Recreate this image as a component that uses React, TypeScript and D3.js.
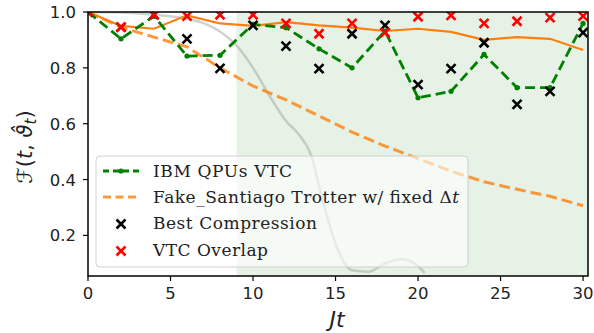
import React from "react";
import * as d3 from "d3";

const tVals = [0, 2, 4, 6, 8, 10, 12, 14, 16, 18, 20, 22, 24, 26, 28, 30];
const ibmVTC = [1.0, 0.904, 0.985, 0.842, 0.845, 0.956, 0.944, 0.868, 0.80, 0.932, 0.693, 0.716, 0.848, 0.729, 0.729, 0.959];
const trotterSolid = [1.0, 0.95, 0.94, 0.988, 0.959, 0.95, 0.964, 0.952, 0.944, 0.932, 0.94, 0.929, 0.90, 0.91, 0.904, 0.864];
const fakeSantiago = [1.0, 0.945, 0.91, 0.875, 0.80, 0.735, 0.685, 0.628, 0.57, 0.52, 0.475, 0.43, 0.392, 0.365, 0.34, 0.306];
const bestCompression = [1.0, 0.946, 0.99, 0.904, 0.798, 0.952, 0.878, 0.797, 0.922, 0.952, 0.74, 0.797, 0.89, 0.669, 0.716, 0.926];
const vtcOverlap = [1.0, 0.946, 0.99, 0.985, 0.99, 0.99, 0.959, 0.922, 0.959, 0.926, 0.983, 0.988, 0.959, 0.967, 0.98, 0.985];
const exactT = [0, 2, 4, 5, 6, 7, 8, 9, 10, 11, 12, 12.8, 13.5, 14.2, 15, 16, 17, 18, 19, 19.8, 20.4];
const exactF = [1.0, 0.998, 0.99, 0.985, 0.975, 0.96, 0.93, 0.88, 0.8, 0.7, 0.61, 0.56, 0.49, 0.33, 0.17, 0.075, 0.07, 0.1, 0.115, 0.1, 0.066];
const xTicks = [0, 5, 10, 15, 20, 25, 30];
const yTicks = [0.2, 0.4, 0.6, 0.8, 1.0];
const legendLabels = ["IBM QPUs VTC", "Fake_Santiago Trotter w/ fixed Δt", "Best Compression", "VTC Overlap"];
const legendWidths = [139, 306, 164, 115];
const shadeStart = 9;

const W = 594, H = 333;
const L = 88, R = 588, T = 12, B = 276;

export default function App() {
  const x = d3.scaleLinear().domain([0, 30.3]).range([L, R]);
  const y = d3.scaleLinear().domain([0.0546, 1.0]).range([B, T]);
  const line = d3.line<[number, number]>().x(d => x(d[0])).y(d => y(d[1]));
  const smooth = d3.line<[number, number]>().x(d => x(d[0])).y(d => y(d[1])).curve(d3.curveMonotoneX);
  const pts = (arr: number[]) => tVals.map((t, i) => [t, arr[i]] as [number, number]);
  const exactPts = exactT.map((t, i) => [t, exactF[i]] as [number, number]);
  const xMark = (cx: number, cy: number, color: string, k: string) => (
    <path key={k} d={`M${cx - 4.5},${cy - 4.5}L${cx + 4.5},${cy + 4.5}M${cx - 4.5},${cy + 4.5}L${cx + 4.5},${cy - 4.5}`} stroke={color} strokeWidth={2.6} fill="none" />
  );
  const tickFont = "'DejaVu Sans', sans-serif";
  const serif = "'DejaVu Serif', 'Liberation Serif', serif";
  const legX = 96, legY = 156, legW = 372, legH = 111;
  const rowY = [171, 197, 223, 250];
  return (
    <svg width={W} height={H} style={{ position: "absolute", left: 0, top: 0 }}>
      <defs>
        <clipPath id="plot"><rect x={L} y={T} width={R - L} height={B - T} /></clipPath>
      </defs>
      <rect x={0} y={0} width={W} height={H} fill="white" />
      <rect x={x(shadeStart)} y={T} width={R - x(shadeStart)} height={B - T} fill="#008000" fillOpacity={0.1} />
      <g clipPath="url(#plot)">
        <path d={smooth(exactPts) || ""} fill="none" stroke="#a0a8a0" strokeOpacity={0.5} strokeWidth={2.5} />
        <path d={line(pts(trotterSolid)) || ""} fill="none" stroke="#ff7f0e" strokeWidth={2.2} />
        <path d={line(pts(fakeSantiago)) || ""} fill="none" stroke="#ff7f0e" strokeOpacity={0.8} strokeWidth={3} strokeDasharray="11,5" />
        <path d={line(pts(ibmVTC)) || ""} fill="none" stroke="#008000" strokeWidth={2.8} strokeDasharray="10,5" />
        {tVals.map((t, i) => <circle key={"g" + i} cx={x(t)} cy={y(ibmVTC[i])} r={2.6} fill="#008000" />)}
        {tVals.map((t, i) => xMark(x(t), y(bestCompression[i]), "black", "b" + i))}
        {tVals.map((t, i) => xMark(x(t), y(vtcOverlap[i]), "red", "r" + i))}
      </g>
      {/* legend */}
      <rect x={legX} y={legY} width={legW} height={legH} rx={4} fill="white" fillOpacity={0.6} stroke="#d0d0d0" strokeWidth={1} />
      <line x1={103} x2={140} y1={rowY[0]} y2={rowY[0]} stroke="#008000" strokeWidth={2.8} strokeDasharray="6,4" />
      <circle cx={121} cy={rowY[0]} r={2.6} fill="#008000" />
      <line x1={103} x2={140} y1={rowY[1]} y2={rowY[1]} stroke="#ff7f0e" strokeOpacity={0.8} strokeWidth={3} strokeDasharray="8,4.5" />
      {xMark(121, rowY[2] + 1, "black", "lb")}
      {xMark(121, rowY[3] + 1, "red", "lr")}
      {legendLabels.map((s, i) => (
        <text key={"lt" + i} x={153} y={rowY[i] + 6} fontFamily={serif} fontSize={17} fill="#222"
          textLength={legendWidths[i]} lengthAdjust="spacing">
          {i === 1 ? (<>{"Fake_Santiago Trotter w/ fixed Δ"}<tspan fontStyle="italic">t</tspan></>) : s}
        </text>
      ))}
      {/* axes frame */}
      <rect x={L} y={T} width={R - L} height={B - T} fill="none" stroke="black" strokeWidth={1.5} />
      {xTicks.map(t => (
        <g key={"xt" + t}>
          <line x1={x(t)} x2={x(t)} y1={B} y2={B + 5} stroke="black" strokeWidth={1.2} />
          <text x={x(t)} y={B + 23} textAnchor="middle" fontFamily={tickFont} fontSize={16.5} fill="#222">{t}</text>
        </g>
      ))}
      {yTicks.map(v => (
        <g key={"yt" + v}>
          <line x1={L - 5} x2={L} y1={y(v)} y2={y(v)} stroke="black" strokeWidth={1.2} />
          <text x={L - 12} y={y(v) + 6} textAnchor="end" fontFamily={tickFont} fontSize={16.5} fill="#222">{v.toFixed(1)}</text>
        </g>
      ))}
      <text x={337} y={327} textAnchor="middle" fontFamily={tickFont} fontSize={22} fontStyle="italic" fill="#222">Jt</text>
      <text transform="translate(32,147) rotate(-90)" textAnchor="middle" fontFamily={tickFont} fontSize={21} fill="#222">
        <tspan fontStyle="italic">ℱ</tspan>(<tspan fontStyle="italic">t</tspan>, <tspan fontStyle="italic">ϑ̂</tspan><tspan fontStyle="italic" fontSize={15} dy={4}>t</tspan><tspan dy={-4}>)</tspan>
      </text>
    </svg>
  );
}
